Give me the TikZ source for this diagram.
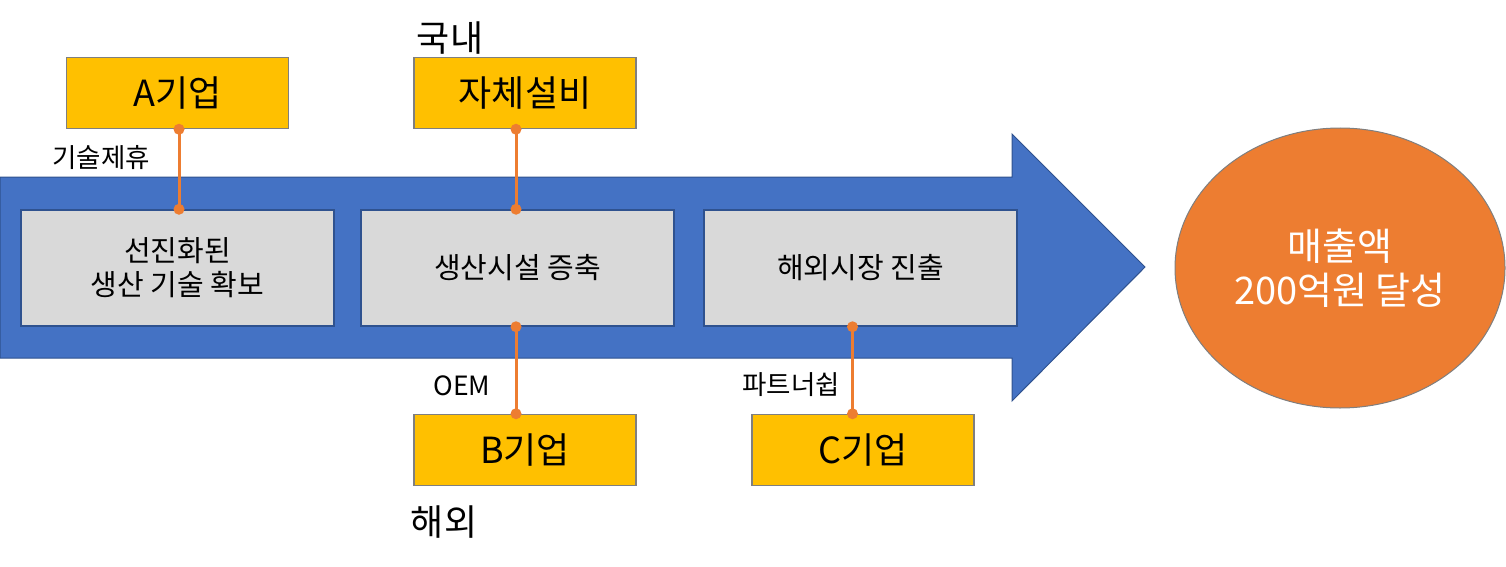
\documentclass[tikz,border=0pt]{standalone}
\usepackage{fontspec}
\usetikzlibrary{shapes.geometric}
\setmainfont{Noto Sans CJK KR}
\definecolor{arrowblue}{HTML}{4472C4}
\definecolor{arrowedge}{HTML}{2F528F}
\definecolor{boxgray}{HTML}{D9D9D9}
\definecolor{boxyellow}{HTML}{FFC000}
\definecolor{edgegray}{HTML}{7F7F7F}
\definecolor{linkorange}{HTML}{ED7D31}
\tikzset{
  stagebox/.style={draw=arrowedge, line width=1.5pt, fill=boxgray, minimum width=313pt, minimum height=116pt, align=center, inner sep=0pt, font=\fontsize{29}{34}\selectfont},
  partnerbox/.style={draw=edgegray, line width=1.5pt, fill=boxyellow, minimum width=222pt, minimum height=71pt, inner sep=0pt, font=\fontsize{36}{40}\selectfont},
  smalllabel/.style={inner sep=0pt, font=\fontsize{26.5}{30}\selectfont},
  biglabel/.style={inner sep=0pt, font=\fontsize{36}{40}\selectfont},
  link/.style={draw=linkorange, line width=3pt},
  linkdot/.style={fill=linkorange},
}
\begin{document}
\begin{tikzpicture}[x=1pt,y=-1pt]
\useasboundingbox (0,0) rectangle (1506,567);
% big arrow
\draw[fill=arrowblue, draw=arrowedge, line width=1pt]
  (0,177) -- (1012,177) -- (1012,134) -- (1145,267) -- (1012,401) -- (1012,358) -- (0,358) -- cycle;
% stage boxes
\node[stagebox] (g1) at (177.5,268) {선진화된\\생산 기술 확보};
\node[stagebox] (g2) at (517.5,268) {생산시설 증축};
\node[stagebox] (g3) at (860.5,268) {해외시장 진출};
% partner boxes
\node[partnerbox] (A) at (177.5,93) {A기업};
\node[partnerbox] (S) at (525,93) {자체설비};
\node[partnerbox] (B) at (525,450) {B기업};
\node[partnerbox] (C) at (863,450) {C기업};
% goal
\node[ellipse, draw=edgegray, line width=1pt, fill=linkorange, minimum width=330pt, minimum height=280pt, inner sep=0pt, align=center, text=white, font=\fontsize{38}{44}\selectfont] (goal) at (1340,268) {매출액\\200억원 달성};
% labels
\node[smalllabel] (l1) at (101,158) {기술제휴};
\node[smalllabel] (l2) at (462,386) {OEM};
\node[smalllabel] (l3) at (791,385) {파트너쉽};
\node[biglabel] (l4) at (450,38) {국내};
\node[biglabel] (l5) at (444,522) {해외};
% connectors
\coordinate (a1) at ([xshift=1.5pt]A.south);
\coordinate (a2) at (a1 |- g1.north);
\coordinate (s1) at ([xshift=-1.5pt]g2.north);
\coordinate (s2) at (s1 |- S.south);
\coordinate (b1) at ([xshift=-1.5pt]g2.south);
\coordinate (b2) at (b1 |- B.north);
\coordinate (c1) at ([xshift=-8pt]g3.south);
\coordinate (c2) at (c1 |- C.north);
\draw[link] (a1) -- (a2);
\draw[link] (s2) -- (s1);
\draw[link] (b1) -- (b2);
\draw[link] (c1) -- (c2);
\foreach \p in {a1,a2,s1,s2,b1,b2,c1,c2} \fill[linkdot] (\p) circle (5.5pt);
\end{tikzpicture}
\end{document}
